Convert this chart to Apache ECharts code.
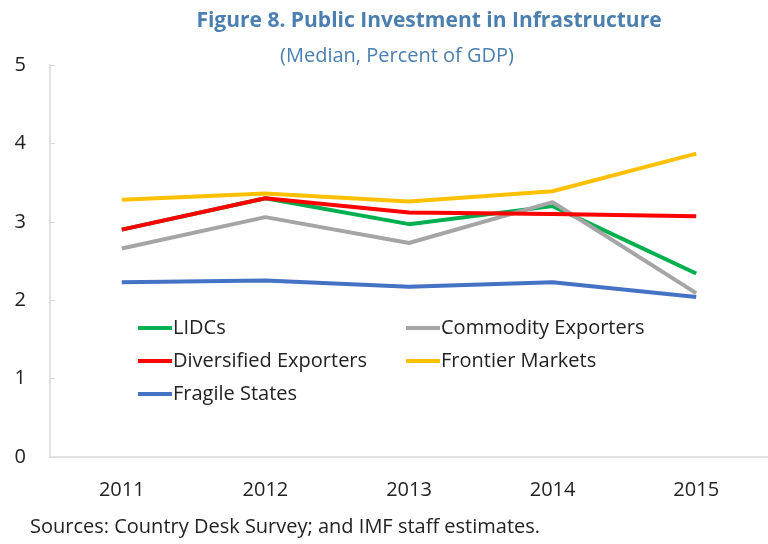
<!DOCTYPE html>
<html><head><meta charset="utf-8">
<script src="https://cdn.jsdelivr.net/npm/echarts@6/dist/echarts.min.js"></script>
<style>html,body{margin:0;padding:0;background:#fff}#c{width:768px;height:544px}</style>
</head><body><div id="c"></div>
<script>
var years = ['2011','2012','2013','2014','2015'];
var lidcs = [2.90, 3.30, 2.97, 3.20, 2.34];
var commodity = [2.66, 3.06, 2.73, 3.25, 2.09];
var diversified = [2.90, 3.30, 3.12, 3.10, 3.07];
var frontier = [3.28, 3.36, 3.26, 3.39, 3.87];
var fragile = [2.23, 2.25, 2.17, 2.23, 2.04];
var yTicks = [0, 1, 2, 3, 4, 5];

var FONT = 'Open Sans';
function ser(name, data, color, z) {
  return {name: name, type: 'line', data: data, symbol: 'none', z: z,
    lineStyle: {color: color, width: 4}, itemStyle: {color: color}};
}
var chart = echarts.init(document.getElementById('c'));
chart.setOption({
  animation: false,
  textStyle: {fontFamily: FONT},
  title: [
    {text: 'Figure 8. Public Investment in Infrastructure', left: 424, top: 6, textAlign: 'center',
     textStyle: {fontFamily: FONT, fontWeight: 'bold', fontSize: 21, color: '#4a7fb0'}},
    {text: '(Median, Percent of GDP)', left: 392, top: 41, textAlign: 'center',
     textStyle: {fontFamily: FONT, fontWeight: 'normal', fontSize: 20, color: '#4a7fb0'}},
    {text: 'Sources: Country Desk Survey; and IMF staff estimates.', left: 25, top: 512,
     textStyle: {fontFamily: FONT, fontWeight: 'normal', fontSize: 20, color: '#222'}}
  ],
  grid: {left: 50, right: -2, top: 65, bottom: 87, containLabel: false},
  legend: [
    {data: ['LIDCs', 'Diversified Exporters', 'Fragile States'], orient: 'vertical', left: 133, top: 313,
     icon: 'rect', itemWidth: 34, itemHeight: 4, itemGap: 13,
     textStyle: {fontFamily: FONT, fontSize: 20, color: '#222', padding: [0,0,0,-4]}},
    {data: ['Commodity Exporters', 'Frontier Markets'], orient: 'vertical', left: 401, top: 313,
     icon: 'rect', itemWidth: 34, itemHeight: 4, itemGap: 13,
     textStyle: {fontFamily: FONT, fontSize: 20, color: '#222', padding: [0,0,0,-4]}}
  ],
  xAxis: {type: 'category', data: years, boundaryGap: true,
    axisLine: {lineStyle: {color: '#d9d9d9', width: 1.5}}, axisTick: {show: false},
    axisLabel: {color: '#222', fontSize: 20, margin: 23, fontFamily: FONT}},
  yAxis: {type: 'value', min: yTicks[0], max: yTicks[yTicks.length-1], interval: 1,
    axisLine: {show: true, lineStyle: {color: '#d9d9d9', width: 1.5}},
    axisTick: {show: true, inside: true, length: 5, lineStyle: {color: '#d9d9d9'}},
    splitLine: {show: false},
    axisLabel: {color: '#222', fontSize: 20, margin: 24, fontFamily: FONT}},
  series: [
    ser('LIDCs', lidcs, '#00b050', 2),
    ser('Commodity Exporters', commodity, '#a5a5a5', 3),
    ser('Diversified Exporters', diversified, '#ff0000', 4),
    ser('Frontier Markets', frontier, '#ffc000', 5),
    ser('Fragile States', fragile, '#4472c4', 2)
  ]
});
</script></body></html>
